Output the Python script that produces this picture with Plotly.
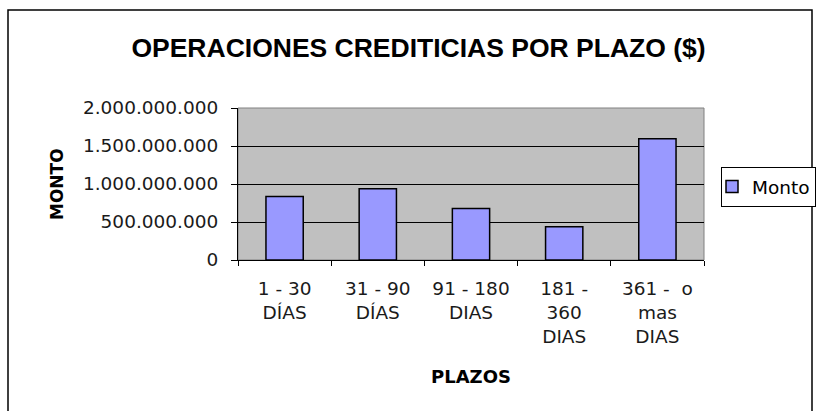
import plotly.graph_objects as go

categories = ["1 - 30<br>DÍAS", "31 - 90<br>DÍAS", "91 - 180<br>DIAS", "181 -<br>360<br>DIAS", "361 -  o<br>mas<br>DIAS"]
montos = [837000000, 938000000, 679000000, 438000000, 1596000000]
y_ticks = [0, 500000000, 1000000000, 1500000000, 2000000000]
y_tick_labels = ["0", "500.000.000", "1.000.000.000", "1.500.000.000", "2.000.000.000"]
chart_title = "OPERACIONES CREDITICIAS POR PLAZO ($)"

fig = go.Figure()
fig.add_trace(go.Bar(
    x=categories, y=montos, name="Monto",
    marker=dict(color="#9999FF", line=dict(color="#000000", width=1.5)),
    showlegend=True,
))

arial = "Arial, 'Liberation Sans', sans-serif"
wide = "'DejaVu Sans', Verdana, sans-serif"
fig.update_layout(
    width=822, height=411,
    margin=dict(l=238, r=118, t=108, b=151, autoexpand=False),
    paper_bgcolor="white",
    plot_bgcolor="#C0C0C0",
    bargap=0.6,
    font=dict(family=wide, size=18.5, color="#1a1a1a"),
    title=dict(text="<b>" + chart_title + "</b>",
               x=418.5/822, xref="container", xanchor="center",
               y=1 - 48/411, yref="container", yanchor="middle",
               font=dict(size=26.5, color="#000000", family=arial)),
    showlegend=True,
    legend=dict(x=721/822, xref="container", y=1 - 167/411, yref="container",
                xanchor="left", yanchor="top",
                bordercolor="#000000", borderwidth=1, bgcolor="white",
                font=dict(size=18.5, color="#000000", family=wide),
                itemwidth=30, indentation=-10, tracegroupgap=0),
    xaxis=dict(showline=True, linecolor="#000000", linewidth=1,
               ticks="outside", ticklen=5, tickcolor="#000000",
               showgrid=False, tickson="boundaries", automargin=False,
               ticklabelstandoff=12,
               tickfont=dict(size=18.5, color="#1a1a1a", family=wide)),
    yaxis=dict(range=[0, 2000000000], tickvals=y_ticks, ticktext=y_tick_labels,
               showline=True, linecolor="#000000", linewidth=1,
               ticks="outside", ticklen=6, tickcolor="#000000",
               showgrid=True, gridcolor="#000000", gridwidth=1,
               zeroline=False, automargin=False, ticklabelstandoff=9,
               tickfont=dict(size=18.5, color="#1a1a1a", family=wide)),
    annotations=[
        dict(text="<b>MONTO</b>", xref="paper", yref="paper", x=-181/466, y=0.5,
             textangle=-90, showarrow=False, xanchor="center", yanchor="middle",
             font=dict(size=17, color="#000000", family=wide)),
        dict(text="<b>PLAZOS</b>", xref="paper", yref="paper", x=0.5, y=-116/152,
             showarrow=False, xanchor="center", yanchor="middle",
             font=dict(size=18, color="#000000", family=wide)),
    ],
    shapes=[
        dict(type="rect", xref="paper", yref="paper", x0=0, x1=1, y0=0, y1=1,
             line=dict(color="#808080", width=1), layer="below"),
        dict(type="rect", xref="paper", yref="paper",
             x0=-230/466, x1=1 + 108/466, y0=-160/152, y1=1 + 98/152,
             line=dict(color="#000000", width=1.5)),
    ],
)

fig.write_html("out.html", config={"displayModeBar": False},
               post_script="document.body.style.margin='0';document.body.style.overflow='hidden';")
